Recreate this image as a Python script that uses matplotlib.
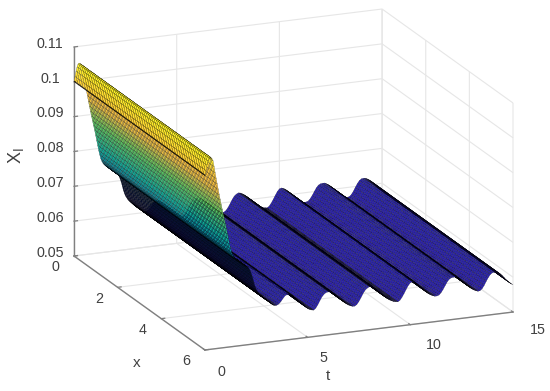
import numpy as np
import matplotlib
matplotlib.use("Agg")
import matplotlib.pyplot as plt
from matplotlib.colors import LinearSegmentedColormap, Normalize
from mpl_toolkits.mplot3d import proj3d

plt.rcParams['font.family'] = ['Liberation Sans', 'DejaVu Sans']

x_values = [i * 0.075 for i in range(81)]
t_early = [0, .01, .05, .1, .15, .2, .25, .3, .35, .4, .45, .5, .55, .6, .65, .7, .75, .8,
           .85, .9, .95, 1.0, 1.05, 1.1, 1.15, 1.2, 1.25, 1.3, 1.35, 1.4, 1.45, 1.5, 1.55,
           1.6, 1.65, 1.7, 1.75, 1.8, 1.85, 1.9, 1.95, 2.0, 2.05, 2.1, 2.15, 2.2, 2.25, 2.3,
           2.35, 2.4, 2.45, 2.5, 2.55, 2.6, 2.65, 2.7, 2.75, 2.8, 2.85, 2.9, 2.95, 3.0, 3.05,
           3.1, 3.15, 3.2, 3.25, 3.3, 3.35, 3.4, 3.45]
xl_early = [.1000, .1003, .1015, .1030, .1042, .1050, .1052, .1050, .1046, .1040, .1023, .1005,
            .0988, .0972, .0956, .0940, .0925, .0910, .0896, .0882, .0868, .0855, .0840, .0825,
            .0810, .0795, .0782, .0770, .0763, .0757, .0753, .0750, .0747, .0745, .0742, .0740,
            .0737, .0735, .0732, .0730, .0728, .0726, .0724, .0722, .0718, .0712, .0704, .0695,
            .0684, .0672, .0663, .0655, .0650, .0645, .0641, .0638, .0635, .0632, .0629, .0626,
            .0623, .0621, .0619, .0617, .0615, .0612, .0609, .0606, .0604, .0603, .0603]
t_late = [35 * 0.1 + i * 0.1 for i in range(116)]
xl_late = [
    .0603, .0606, .0612, .0620, .0627,
    .0630, .0630, .0627, .0623, .0617, .0612, .0606, .0600, .0594, .0588,
    .0583, .0579, .0577, .0576, .0581, .0590, .0601, .0611, .0618, .0622,
    .0623, .0622, .0619, .0615, .0610, .0604, .0598, .0592, .0587, .0582,
    .0578, .0575, .0573, .0573, .0577, .0585, .0595, .0606, .0615, .0620,
    .0623, .0622, .0619, .0615, .0610, .0604, .0598, .0592, .0587, .0582,
    .0578, .0575, .0572, .0571, .0570, .0574, .0582, .0592, .0603, .0613,
    .0620, .0622, .0620, .0616, .0611, .0605, .0599, .0593, .0587, .0582,
    .0578, .0575, .0573, .0573, .0575, .0581, .0590, .0600, .0610, .0617,
    .0620, .0621, .0621, .0618, .0614, .0609, .0603, .0597, .0591, .0586,
    .0581, .0577, .0574, .0572, .0573, .0578, .0587, .0598, .0608, .0616,
    .0620, .0621, .0620, .0617, .0613, .0607, .0600, .0593, .0587, .0582,
    .0578,
]
x_ticks = [0, 2, 4, 6]
t_ticks = [0, 5, 10, 15]
z_ticks = [0.05, 0.06, 0.07, 0.08, 0.09, 0.1, 0.11]
z_tick_labels = ['0.05', '0.06', '0.07', '0.08', '0.09', '0.1', '0.11']

t_values = np.array(t_early + t_late)
xl_values = np.array(xl_early + xl_late)

cmap = LinearSegmentedColormap.from_list('surf', [
    (0.00, (.17, .12, .70)),
    (0.17, (.15, .14, .68)),
    (0.31, (.05, .32, .62)),
    (0.48, (.05, .68, .62)),
    (0.65, (.38, .80, .38)),
    (0.80, (.98, .75, .25)),
    (0.90, (1.0, .80, .22)),
    (1.00, (1.0, .97, .15)),
])

X, T = np.meshgrid(x_values, t_values)
Z = np.tile(xl_values[:, None], (1, len(x_values)))
norm = Normalize(0.057, 0.105)
cell = (Z[:-1, :-1] + Z[1:, 1:] + Z[1:, :-1] + Z[:-1, 1:]) / 4
face = cmap(norm(cell))

# Darker rows: the dense, nearly edge-on parts of the sheet read as black in the reference
t_mid = (t_values[:-1] + t_values[1:]) / 2
row_shade = np.interp(t_mid, [1.3, 1.4, 1.6, 2.0, 2.2, 3.3, 3.45, 3.6],
                      [1, .85, .6, .45, .3, .3, .6, 1])
row_shade[0] = 0.1
row_shade[(t_mid > 3.6) & (np.diff(xl_values) < 0)] = 0.4
face[:, :, :3] *= row_shade[:, None, None]

W, H = 550, 391
fig = plt.figure(figsize=(W / 100, H / 100), dpi=100)
ax = fig.add_axes([0, 0, 1, 1], projection='3d')
ax.set_proj_type('ortho')
ax.view_init(elev=17.3, azim=-22.5)
ax.set_box_aspect((342, 333.4, 218.9))
ax.patch.set_alpha(0)

surf = ax.plot_surface(X, T, Z, facecolors=face, rstride=1, cstride=1,
                       edgecolor='black', linewidth=0.14, shade=False, antialiased=True)
surf.set_clip_on(False)

ax.set_xlim(0, 6)
ax.set_ylim(0, 15)
ax.set_zlim(0.05, 0.11)
ax.set_xticks(x_ticks)
ax.set_yticks(t_ticks)
ax.set_zticks(z_ticks)
ax.set_zticklabels(z_tick_labels)

txt = '#404040'
for axis, pad in ((ax.xaxis, 0), (ax.yaxis, 0), (ax.zaxis, -2)):
    axis.set_pane_color((1, 1, 1, 0))
    axis.pane.set_edgecolor((1, 1, 1, 0))
    axis.line.set_color('#808080')
    axis.line.set_linewidth(1.0)
    axis._axinfo['grid'].update(color='#e6e6e6', linewidth=0.8)
    axis._axinfo['tick'].update(inward_factor=0.0, outward_factor=0.14, linewidth={True: 0.9, False: 0.5})
    axis.set_tick_params(labelsize=10.3, labelcolor=txt, color='#808080', pad=pad)
ax.zaxis.set_ticks_position('lower')
ax.zaxis.set_label_position('lower')
ax.set_xlabel('x', fontsize=11, color=txt, labelpad=0)
ax.set_ylabel('t', fontsize=11, color=txt, labelpad=0)
ax.set_zlabel('X$_{\\mathrm{l}}$', fontsize=13, color=txt, labelpad=0)


def to_px(px, py, pz):
    a, b, _ = proj3d.proj_transform(px, py, pz, ax.get_proj())
    return ax.transData.transform((a, b))


# scale and place the box so its corners land where the reference has them
fig.canvas.draw()
p0, p1 = to_px(0, 0, .05), to_px(6, 15, .05)
q0, q1 = np.array([74, H - 256.0]), np.array([513, H - 312.0])
scale = (q1[0] - q0[0]) / (p1[0] - p0[0])
ax.set_box_aspect((342, 333.4, 218.9), zoom=scale)
fig.canvas.draw()
p0 = to_px(0, 0, .05)
dx, dy = q0 - p0
ax.set_position([dx / W, dy / H, 1, 1])
for artist in ax.get_children():
    artist.set_clip_on(False)
fig.canvas.draw()


def shift(text, px, py):
    """Move a label by pixels each time the 3D axis positions it."""
    place = text.set_position

    def moved(xy):
        p = ax.transData.transform(xy) + np.array([px, -py])
        place(ax.transData.inverted().transform(p))
    text.set_position = moved


for tick, (a, b) in zip(ax.yaxis.get_major_ticks(), [(9, -2), (9, -3), (16, -3), (18, -6)]):
    shift(tick.label1, a, b)
for tick in ax.xaxis.get_major_ticks():
    shift(tick.label1, -2, -9)
for tick in ax.zaxis.get_major_ticks():
    shift(tick.label1, -6, -8)
shift(ax.xaxis.label, 41, 25)
shift(ax.yaxis.label, -50, 2)
shift(ax.zaxis.label, 5, 12)
fig.savefig('out.png', dpi=100)
